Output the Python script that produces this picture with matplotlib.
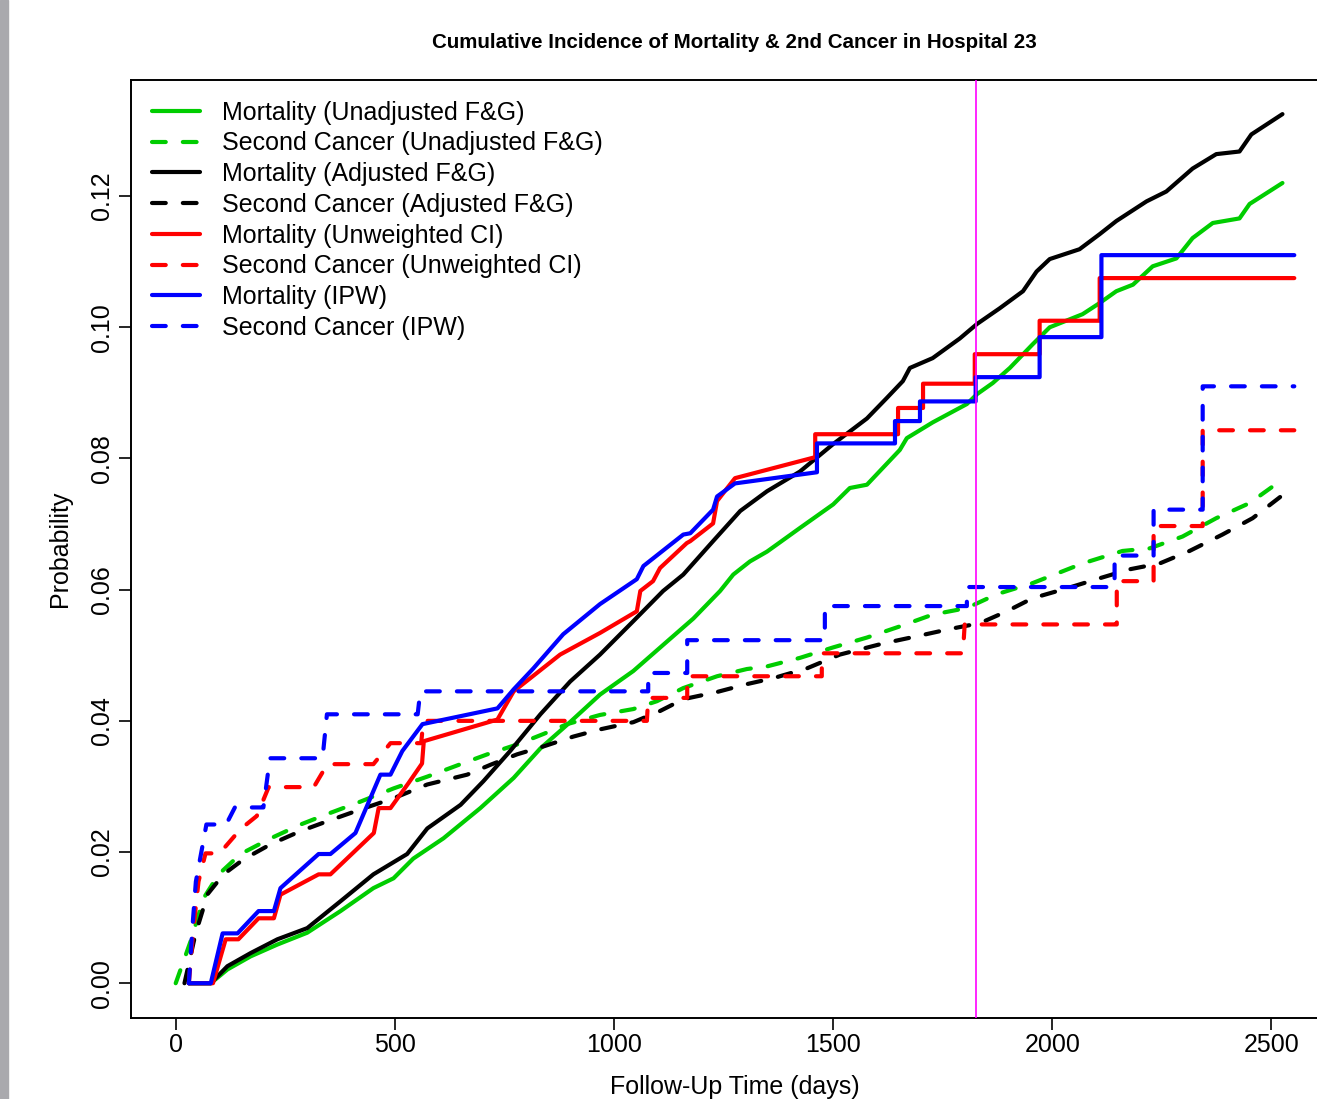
import matplotlib
matplotlib.use("Agg")
import matplotlib.pyplot as plt
from matplotlib.patches import Rectangle

plt.rcParams['font.family'] = ['Liberation Sans', 'DejaVu Sans']

# ---- data (days, probability) ----
# Mortality, unadjusted Fine & Gray
mort_unadj_t = [30, 80, 118, 171, 232, 300, 376, 451, 497, 542, 611, 695, 771, 832,
                893, 968, 1044, 1121, 1181, 1242, 1272, 1310, 1349, 1424, 1500, 1538,
                1577, 1652, 1668, 1727, 1805, 1828, 1864, 1903, 1955, 1994, 2069, 2108,
                2146, 2184, 2229, 2283, 2320, 2366, 2427, 2450, 2525]
mort_unadj_p = [0, 0, 0.0021, 0.0041, 0.0059, 0.0077, 0.011, 0.0145, 0.016, 0.019,
                0.0221, 0.0267, 0.0313, 0.0358, 0.0394, 0.044, 0.0476, 0.0521, 0.0556,
                0.0598, 0.0623, 0.0643, 0.0658, 0.0694, 0.073, 0.0755, 0.076, 0.0813,
                0.0831, 0.0855, 0.0883, 0.0898, 0.0915, 0.0938, 0.0974, 0.1, 0.102,
                0.1037, 0.1055, 0.1065, 0.1093, 0.1105, 0.1136, 0.1159, 0.1166, 0.1188,
                0.122]

# Second cancer, unadjusted Fine & Gray
sc_unadj_t = [0, 34, 64, 98, 148, 217, 285, 346, 422, 497, 574, 650, 711, 779, 839,
              893, 968, 1044, 1098, 1158, 1235, 1303, 1349, 1424, 1500, 1577, 1652,
              1727, 1805, 1873, 1955, 2069, 2160, 2222, 2297, 2374, 2450, 2525]
sc_unadj_p = [0, 0.0064, 0.013, 0.0166, 0.0197, 0.0221, 0.0242, 0.0258, 0.0277,
              0.0297, 0.0315, 0.0334, 0.0349, 0.0364, 0.038, 0.0395, 0.0409, 0.0418,
              0.043, 0.045, 0.0468, 0.0479, 0.0483, 0.0496, 0.0512, 0.0527, 0.0544,
              0.0562, 0.0572, 0.0593, 0.061, 0.064, 0.0659, 0.0663, 0.0681, 0.0709,
              0.0732, 0.0768]

# Mortality, adjusted Fine & Gray
mort_adj_t = [30, 80, 118, 171, 232, 300, 376, 451, 528, 574, 650, 702, 763, 832, 900,
              968, 1044, 1112, 1158, 1226, 1288, 1349, 1424, 1500, 1577, 1622, 1659,
              1675, 1727, 1789, 1828, 1880, 1933, 1964, 1994, 2062, 2108, 2146, 2215,
              2260, 2320, 2374, 2427, 2454, 2525]
mort_adj_p = [0, 0, 0.0026, 0.0046, 0.0067, 0.0084, 0.0125, 0.0166, 0.0197, 0.0236,
              0.0272, 0.0308, 0.0354, 0.041, 0.046, 0.0501, 0.0552, 0.0598, 0.0623,
              0.0674, 0.072, 0.075, 0.078, 0.0822, 0.0861, 0.0892, 0.0918, 0.0938,
              0.0953, 0.0983, 0.1005, 0.1029, 0.1055, 0.1085, 0.1104, 0.1119, 0.1142,
              0.1162, 0.1192, 0.1207, 0.1242, 0.1264, 0.1268, 0.1294, 0.1325]

# Second cancer, adjusted Fine & Gray
sc_adj_t = [20, 45, 73, 109, 155, 217, 285, 346, 422, 497, 574, 665, 718, 779, 839,
            907, 968, 1044, 1105, 1158, 1235, 1303, 1363, 1440, 1515, 1614, 1691, 1766,
            1835, 1896, 1955, 2033, 2101, 2176, 2245, 2313, 2388, 2457, 2525]
sc_adj_p = [0, 0.0075, 0.0136, 0.0166, 0.0189, 0.0212, 0.0232, 0.0247, 0.0265, 0.0282,
            0.0303, 0.0318, 0.0333, 0.0349, 0.0361, 0.0376, 0.0387, 0.0398, 0.0415,
            0.0433, 0.0444, 0.0456, 0.0465, 0.048, 0.0501, 0.0518, 0.0529, 0.054,
            0.0549, 0.0567, 0.0587, 0.0602, 0.0616, 0.0631, 0.064, 0.0659, 0.0684,
            0.0709, 0.0744]

# Mortality, unweighted cumulative incidence
mort_unw_t = [30, 85, 114, 143, 189, 224, 239, 326, 353, 452, 463, 490, 531, 562, 566,
              734, 771, 877, 968, 1052, 1060, 1089, 1105, 1166, 1174, 1226, 1235, 1276,
              1459, 1459, 1648, 1648, 1705, 1705, 1823, 1823, 1971, 1971, 2108, 2108,
              2552]
mort_unw_p = [0, 0, 0.0067, 0.0067, 0.0099, 0.0099, 0.0135, 0.0166, 0.0166, 0.0229,
              0.0267, 0.0267, 0.0305, 0.0335, 0.0369, 0.0402, 0.0445, 0.0501, 0.0534,
              0.0567, 0.0598, 0.0613, 0.0633, 0.0671, 0.0674, 0.0701, 0.0735, 0.077,
              0.0802, 0.0837, 0.0837, 0.0877, 0.0877, 0.0914, 0.0914, 0.0959, 0.0959,
              0.101, 0.101, 0.1075, 0.1075]

# Second cancer, unweighted cumulative incidence
sc_unw_t = [30, 40, 52, 68, 100, 148, 185, 212, 315, 346, 451, 490, 560, 565, 1075,
            1078, 1167, 1167, 1474, 1474, 1796, 1800, 2147, 2147, 2231, 2231, 2343,
            2343, 2552]
sc_unw_p = [0, 0.008, 0.0155, 0.0198, 0.0198, 0.0235, 0.0255, 0.0299, 0.0299, 0.0334,
            0.0334, 0.0366, 0.0366, 0.04, 0.04, 0.0435, 0.0435, 0.0468, 0.0468, 0.0503,
            0.0503, 0.0547, 0.0547, 0.0613, 0.0613, 0.0697, 0.0697, 0.0843, 0.0843]

# Mortality, IPW
mort_ipw_t = [30, 80, 107, 141, 189, 224, 239, 326, 353, 410, 467, 490, 517, 563, 734,
              771, 816, 884, 968, 1052, 1067, 1158, 1174, 1226, 1235, 1276, 1463, 1463,
              1641, 1641, 1698, 1698, 1825, 1825, 1971, 1971, 2112, 2112, 2552]
mort_ipw_p = [0, 0, 0.0076, 0.0076, 0.011, 0.011, 0.0145, 0.0197, 0.0197, 0.0229,
              0.0318, 0.0318, 0.0354, 0.0395, 0.0419, 0.0448, 0.048, 0.0532, 0.0578,
              0.0616, 0.0636, 0.0684, 0.0686, 0.0722, 0.0742, 0.0762, 0.0779, 0.0823,
              0.0823, 0.0857, 0.0857, 0.0887, 0.0887, 0.0924, 0.0924, 0.0985, 0.0985,
              0.111, 0.111]

# Second cancer, IPW
sc_ipw_t = [30, 38, 46, 61, 70, 115, 135, 200, 215, 335, 345, 552, 558, 1078, 1078,
            1167, 1167, 1481, 1481, 1805, 1805, 2142, 2142, 2231, 2231, 2343, 2343, 2552]
sc_ipw_p = [0, 0.0084, 0.0155, 0.0209, 0.0242, 0.0242, 0.0268, 0.0268, 0.0343, 0.0343,
            0.041, 0.041, 0.0445, 0.0445, 0.0473, 0.0473, 0.0523, 0.0523, 0.0575,
            0.0575, 0.0604, 0.0604, 0.0652, 0.0652, 0.0722, 0.0722, 0.091, 0.091]

five_years = 1826

labels = ["Mortality (Unadjusted F&G)", "Second Cancer (Unadjusted F&G)",
          "Mortality (Adjusted F&G)", "Second Cancer (Adjusted F&G)",
          "Mortality (Unweighted CI)", "Second Cancer (Unweighted CI)",
          "Mortality (IPW)", "Second Cancer (IPW)"]

GREEN = "#00cd00"

# ---- figure ----
W, H = 1317, 1099
fig = plt.figure(figsize=(W / 100, H / 100), dpi=100)
fig.add_artist(Rectangle((0, 0), 8 / W, 1, transform=fig.transFigure,
                         color="#a9a9ad", zorder=0))

# axes box runs past the right edge, as in the cropped screenshot
ax = fig.add_axes([131 / W, 81 / H, 1208 / W, 938 / H])

series = [
    (mort_unadj_t, mort_unadj_p, GREEN, "-"),
    (sc_unadj_t, sc_unadj_p, GREEN, "--"),
    (mort_adj_t, mort_adj_p, "black", "-"),
    (sc_adj_t, sc_adj_p, "black", "--"),
    (mort_unw_t, mort_unw_p, "red", "-"),
    (sc_unw_t, sc_unw_p, "red", "--"),
    (mort_ipw_t, mort_ipw_p, "blue", "-"),
    (sc_ipw_t, sc_ipw_p, "blue", "--"),
]

handles = []
for (t, p, col, ls), lab in zip(series, labels):
    if ls == "--":
        ln, = ax.plot(t, p, color=col, lw=3.0, dashes=(3.3, 4.1),
                      dash_capstyle="round", label=lab)
    else:
        ln, = ax.plot(t, p, color=col, lw=3.0, solid_capstyle="round",
                      solid_joinstyle="round", label=lab)
    handles.append(ln)

ax.axvline(five_years, color="#ff00ff", lw=1.2, zorder=5)

ax.set_xlim(-102, 2654)
ax.set_ylim(-0.0053, 0.1377)
ax.set_xticks([0, 500, 1000, 1500, 2000, 2500])
ax.set_yticks([0, 0.02, 0.04, 0.06, 0.08, 0.10, 0.12])
ax.set_yticklabels(["0.00", "0.02", "0.04", "0.06", "0.08", "0.10", "0.12"],
                   rotation=90, va="center")
ax.tick_params(axis="both", labelsize=18, length=8.6, width=1.2, direction="out")
ax.tick_params(axis="x", pad=2)
ax.tick_params(axis="y", pad=3.5)
for s in ax.spines.values():
    s.set_linewidth(1.4)

ax.set_xlabel("Follow-Up Time (days)", fontsize=18)
ax.xaxis.set_label_coords(0.5, -(1087 - 1018) / 938)
ax.xaxis.label.set_va("center")
ax.set_ylabel("Probability", fontsize=18)
ax.yaxis.set_label_coords(-(131 - 60) / 1208, 0.5)
ax.yaxis.label.set_va("center")

fig.text(734 / W, 1 - 42 / H,
         "Cumulative Incidence of Mortality & 2nd Cancer in Hospital 23",
         ha="center", va="center", fontsize=14.8, fontweight="bold")

ax.legend(handles=handles, loc="upper left", bbox_to_anchor=(0.0174, 0.978),
          frameon=False, fontsize=18, handlelength=1.92, handletextpad=0.88,
          labelspacing=0.27, borderpad=0, borderaxespad=0)

fig.savefig("out.png", dpi=100)
